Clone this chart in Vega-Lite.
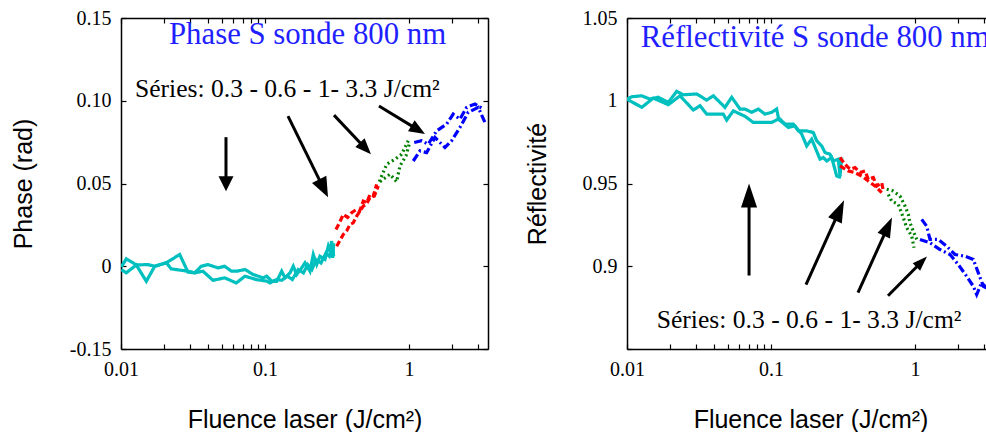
{
  "$schema": "https://vega.github.io/schema/vega-lite/v6.json",
  "background": "white",
  "padding": {"left": 11, "top": 8, "right": 0, "bottom": 0},
  "spacing": 36,
  "config": {
    "view": {"stroke": null},
    "axis": {
      "grid": false, "domainColor": "black", "tickColor": "black", "labelColor": "black", "titleColor": "black",
      "domainWidth": 1.5, "tickWidth": 1.2, "labelFont": "Liberation Serif", "labelFontSize": 20,
      "titleFont": "Liberation Sans", "titleFontSize": 25, "titleFontWeight": "normal",
      "labelFlush": false, "labelOverlap": false
    }
  },
  "datasets": {
    "phase": [
      {"s": "0.3", "p": "a", "f": 0.01005, "v": -0.0004}, {"s": "0.3", "p": "a", "f": 0.01088, "v": 0.0045}, {"s": "0.3", "p": "a", "f": 0.01277, "v": 0.0008}, {"s": "0.3", "p": "a", "f": 0.0154, "v": 0.001}, {"s": "0.3", "p": "a", "f": 0.01714, "v": 0.0}, {"s": "0.3", "p": "a", "f": 0.02064, "v": 0.0021}, {"s": "0.3", "p": "a", "f": 0.02557, "v": 0.0071}, {"s": "0.3", "p": "a", "f": 0.0292, "v": -0.0036}, {"s": "0.3", "p": "a", "f": 0.03249, "v": -0.004}, {"s": "0.3", "p": "a", "f": 0.03611, "v": 0.0}, {"s": "0.3", "p": "a", "f": 0.04019, "v": 0.001}, {"s": "0.3", "p": "a", "f": 0.04717, "v": -0.001}, {"s": "0.3", "p": "a", "f": 0.0525, "v": 0.0}, {"s": "0.3", "p": "a", "f": 0.0585, "v": -0.003}, {"s": "0.3", "p": "a", "f": 0.0636, "v": -0.003}, {"s": "0.3", "p": "a", "f": 0.0726, "v": -0.002}, {"s": "0.3", "p": "a", "f": 0.0829, "v": -0.005}, {"s": "0.3", "p": "a", "f": 0.0973, "v": -0.007}, {"s": "0.3", "p": "a", "f": 0.1028, "v": -0.006}, {"s": "0.3", "p": "a", "f": 0.1113, "v": -0.009}, {"s": "0.3", "p": "a", "f": 0.1206, "v": -0.0091}, {"s": "0.3", "p": "a", "f": 0.1306, "v": -0.003}, {"s": "0.3", "p": "a", "f": 0.1377, "v": -0.007}, {"s": "0.3", "p": "a", "f": 0.1492, "v": -0.004}, {"s": "0.3", "p": "a", "f": 0.1573, "v": 0.0}, {"s": "0.3", "p": "a", "f": 0.166, "v": -0.005}, {"s": "0.3", "p": "a", "f": 0.1799, "v": -0.001}, {"s": "0.3", "p": "a", "f": 0.1896, "v": 0.0021}, {"s": "0.3", "p": "a", "f": 0.2054, "v": -0.003}, {"s": "0.3", "p": "a", "f": 0.2165, "v": 0.0071}, {"s": "0.3", "p": "a", "f": 0.2286, "v": 0.001}, {"s": "0.3", "p": "a", "f": 0.2409, "v": 0.0061}, {"s": "0.3", "p": "a", "f": 0.261, "v": 0.0041}, {"s": "0.3", "p": "a", "f": 0.2752, "v": 0.0121}, {"s": "0.3", "p": "a", "f": 0.2828, "v": 0.0091}, {"s": "0.3", "p": "a", "f": 0.2906, "v": 0.0152}, {"s": "0.3", "p": "a", "f": 0.295, "v": 0.005}, {"s": "0.3", "p": "a", "f": 0.3, "v": 0.014},
      {"s": "0.3", "p": "b", "f": 0.01005, "v": -0.002}, {"s": "0.3", "p": "b", "f": 0.01088, "v": -0.004}, {"s": "0.3", "p": "b", "f": 0.01277, "v": 0.0008}, {"s": "0.3", "p": "b", "f": 0.01499, "v": -0.0091}, {"s": "0.3", "p": "b", "f": 0.01714, "v": 0.0}, {"s": "0.3", "p": "b", "f": 0.02064, "v": 0.0021}, {"s": "0.3", "p": "b", "f": 0.02235, "v": -0.0016}, {"s": "0.3", "p": "b", "f": 0.0292, "v": -0.003}, {"s": "0.3", "p": "b", "f": 0.03249, "v": -0.004}, {"s": "0.3", "p": "b", "f": 0.0371, "v": -0.003}, {"s": "0.3", "p": "b", "f": 0.04355, "v": -0.0085}, {"s": "0.3", "p": "b", "f": 0.0525, "v": -0.007}, {"s": "0.3", "p": "b", "f": 0.0632, "v": -0.0101}, {"s": "0.3", "p": "b", "f": 0.0726, "v": -0.006}, {"s": "0.3", "p": "b", "f": 0.0876, "v": -0.0081}, {"s": "0.3", "p": "b", "f": 0.1028, "v": -0.009}, {"s": "0.3", "p": "b", "f": 0.1083, "v": -0.0101}, {"s": "0.3", "p": "b", "f": 0.1206, "v": -0.008}, {"s": "0.3", "p": "b", "f": 0.1306, "v": -0.0085}, {"s": "0.3", "p": "b", "f": 0.1424, "v": -0.006}, {"s": "0.3", "p": "b", "f": 0.155, "v": -0.008}, {"s": "0.3", "p": "b", "f": 0.17, "v": -0.002}, {"s": "0.3", "p": "b", "f": 0.185, "v": -0.004}, {"s": "0.3", "p": "b", "f": 0.198, "v": 0.001}, {"s": "0.3", "p": "b", "f": 0.212, "v": -0.002}, {"s": "0.3", "p": "b", "f": 0.226, "v": 0.004}, {"s": "0.3", "p": "b", "f": 0.245, "v": 0.002}, {"s": "0.3", "p": "b", "f": 0.265, "v": 0.008}, {"s": "0.3", "p": "b", "f": 0.28, "v": 0.006}, {"s": "0.3", "p": "b", "f": 0.295, "v": 0.012}, {"s": "0.3", "p": "b", "f": 0.3, "v": 0.006},
      {"s": "0.6", "p": "a", "f": 0.3112, "v": 0.0222}, {"s": "0.6", "p": "a", "f": 0.33, "v": 0.0265}, {"s": "0.6", "p": "a", "f": 0.3499, "v": 0.0313}, {"s": "0.6", "p": "a", "f": 0.375, "v": 0.0295}, {"s": "0.6", "p": "a", "f": 0.4001, "v": 0.0324}, {"s": "0.6", "p": "a", "f": 0.4335, "v": 0.0344}, {"s": "0.6", "p": "a", "f": 0.455, "v": 0.0335}, {"s": "0.6", "p": "a", "f": 0.4816, "v": 0.0394}, {"s": "0.6", "p": "a", "f": 0.51, "v": 0.0385}, {"s": "0.6", "p": "a", "f": 0.536, "v": 0.0434}, {"s": "0.6", "p": "a", "f": 0.565, "v": 0.0425}, {"s": "0.6", "p": "a", "f": 0.5967, "v": 0.0495},
      {"s": "0.6", "p": "b", "f": 0.3147, "v": 0.0121}, {"s": "0.6", "p": "b", "f": 0.3499, "v": 0.0192}, {"s": "0.6", "p": "b", "f": 0.37, "v": 0.0215}, {"s": "0.6", "p": "b", "f": 0.3894, "v": 0.0253}, {"s": "0.6", "p": "b", "f": 0.41, "v": 0.0262}, {"s": "0.6", "p": "b", "f": 0.4335, "v": 0.0303}, {"s": "0.6", "p": "b", "f": 0.4816, "v": 0.0364}, {"s": "0.6", "p": "b", "f": 0.505, "v": 0.0372}, {"s": "0.6", "p": "b", "f": 0.536, "v": 0.0415}, {"s": "0.6", "p": "b", "f": 0.575, "v": 0.0425}, {"s": "0.6", "p": "b", "f": 0.6121, "v": 0.0485},
      {"s": "1", "p": "a", "f": 0.622, "v": 0.0511}, {"s": "1", "p": "a", "f": 0.7001, "v": 0.0616}, {"s": "1", "p": "a", "f": 0.7995, "v": 0.0647}, {"s": "1", "p": "a", "f": 0.8898, "v": 0.0677}, {"s": "1", "p": "a", "f": 0.9888, "v": 0.0758},
      {"s": "1", "p": "b", "f": 0.6289, "v": 0.0511}, {"s": "1", "p": "b", "f": 0.7382, "v": 0.0556}, {"s": "1", "p": "b", "f": 0.8215, "v": 0.0511}, {"s": "1", "p": "b", "f": 0.866, "v": 0.0606}, {"s": "1", "p": "b", "f": 0.9533, "v": 0.0667}, {"s": "1", "p": "b", "f": 1.0048, "v": 0.0738},
      {"s": "3.3", "p": "a", "f": 1.088, "v": 0.0748}, {"s": "3.3", "p": "a", "f": 1.225, "v": 0.0758}, {"s": "3.3", "p": "a", "f": 1.361, "v": 0.0738}, {"s": "3.3", "p": "a", "f": 1.557, "v": 0.0818}, {"s": "3.3", "p": "a", "f": 1.827, "v": 0.0859}, {"s": "3.3", "p": "a", "f": 2.03, "v": 0.0919}, {"s": "3.3", "p": "a", "f": 2.261, "v": 0.0889}, {"s": "3.3", "p": "a", "f": 2.516, "v": 0.096}, {"s": "3.3", "p": "a", "f": 2.873, "v": 0.098}, {"s": "3.3", "p": "a", "f": 3.281, "v": 0.095},
      {"s": "3.3", "p": "b", "f": 1.071, "v": 0.0636}, {"s": "3.3", "p": "b", "f": 1.192, "v": 0.0697}, {"s": "3.3", "p": "b", "f": 1.327, "v": 0.0687}, {"s": "3.3", "p": "b", "f": 1.516, "v": 0.0778}, {"s": "3.3", "p": "b", "f": 1.778, "v": 0.0718}, {"s": "3.3", "p": "b", "f": 1.979, "v": 0.0758}, {"s": "3.3", "p": "b", "f": 2.261, "v": 0.0839}, {"s": "3.3", "p": "b", "f": 2.581, "v": 0.093}, {"s": "3.3", "p": "b", "f": 3.029, "v": 0.096}, {"s": "3.3", "p": "b", "f": 3.371, "v": 0.0869}
    ],
    "refl": [
      {"s": "0.3", "p": "a", "f": 0.01, "v": 1.001}, {"s": "0.3", "p": "a", "f": 0.01078, "v": 1.0024}, {"s": "0.3", "p": "a", "f": 0.01265, "v": 1.003}, {"s": "0.3", "p": "a", "f": 0.01445, "v": 1.001}, {"s": "0.3", "p": "a", "f": 0.0165, "v": 1.0021}, {"s": "0.3", "p": "a", "f": 0.01936, "v": 0.999}, {"s": "0.3", "p": "a", "f": 0.02214, "v": 1.0057}, {"s": "0.3", "p": "a", "f": 0.0246, "v": 1.0036}, {"s": "0.3", "p": "a", "f": 0.03048, "v": 1.0041}, {"s": "0.3", "p": "a", "f": 0.03577, "v": 1.0004}, {"s": "0.3", "p": "a", "f": 0.03975, "v": 1.003}, {"s": "0.3", "p": "a", "f": 0.04793, "v": 0.996}, {"s": "0.3", "p": "a", "f": 0.05335, "v": 1.0021}, {"s": "0.3", "p": "a", "f": 0.06093, "v": 0.995}, {"s": "0.3", "p": "a", "f": 0.066, "v": 0.995}, {"s": "0.3", "p": "a", "f": 0.07345, "v": 0.993}, {"s": "0.3", "p": "a", "f": 0.08164, "v": 0.995}, {"s": "0.3", "p": "a", "f": 0.09085, "v": 0.9919}, {"s": "0.3", "p": "a", "f": 0.1011, "v": 0.993}, {"s": "0.3", "p": "a", "f": 0.1095, "v": 0.995}, {"s": "0.3", "p": "a", "f": 0.1124, "v": 0.9899}, {"s": "0.3", "p": "a", "f": 0.1251, "v": 0.9859}, {"s": "0.3", "p": "a", "f": 0.1429, "v": 0.9859}, {"s": "0.3", "p": "a", "f": 0.1548, "v": 0.9818}, {"s": "0.3", "p": "a", "f": 0.177, "v": 0.9818}, {"s": "0.3", "p": "a", "f": 0.1967, "v": 0.9808}, {"s": "0.3", "p": "a", "f": 0.2077, "v": 0.9758}, {"s": "0.3", "p": "a", "f": 0.225, "v": 0.9727}, {"s": "0.3", "p": "a", "f": 0.2371, "v": 0.9687}, {"s": "0.3", "p": "a", "f": 0.2569, "v": 0.9677}, {"s": "0.3", "p": "a", "f": 0.2707, "v": 0.9636}, {"s": "0.3", "p": "a", "f": 0.2934, "v": 0.9647}, {"s": "0.3", "p": "a", "f": 0.3015, "v": 0.9545}, {"s": "0.3", "p": "a", "f": 0.3097, "v": 0.9657},
      {"s": "0.3", "p": "b", "f": 0.01, "v": 1.001}, {"s": "0.3", "p": "b", "f": 0.01265, "v": 0.996}, {"s": "0.3", "p": "b", "f": 0.01522, "v": 1.0016}, {"s": "0.3", "p": "b", "f": 0.01936, "v": 0.9976}, {"s": "0.3", "p": "b", "f": 0.02334, "v": 1.003}, {"s": "0.3", "p": "b", "f": 0.02887, "v": 0.9944}, {"s": "0.3", "p": "b", "f": 0.03214, "v": 0.997}, {"s": "0.3", "p": "b", "f": 0.03577, "v": 0.9919}, {"s": "0.3", "p": "b", "f": 0.04665, "v": 0.9919}, {"s": "0.3", "p": "b", "f": 0.04925, "v": 0.9883}, {"s": "0.3", "p": "b", "f": 0.05473, "v": 0.9939}, {"s": "0.3", "p": "b", "f": 0.06261, "v": 0.9915}, {"s": "0.3", "p": "b", "f": 0.066, "v": 0.9906}, {"s": "0.3", "p": "b", "f": 0.07535, "v": 0.9869}, {"s": "0.3", "p": "b", "f": 0.08164, "v": 0.9869}, {"s": "0.3", "p": "b", "f": 0.1011, "v": 0.9869}, {"s": "0.3", "p": "b", "f": 0.1124, "v": 0.9889}, {"s": "0.3", "p": "b", "f": 0.1319, "v": 0.9839}, {"s": "0.3", "p": "b", "f": 0.1468, "v": 0.9848}, {"s": "0.3", "p": "b", "f": 0.1634, "v": 0.9798}, {"s": "0.3", "p": "b", "f": 0.177, "v": 0.9727}, {"s": "0.3", "p": "b", "f": 0.1917, "v": 0.9768}, {"s": "0.3", "p": "b", "f": 0.2189, "v": 0.9647}, {"s": "0.3", "p": "b", "f": 0.2308, "v": 0.9657}, {"s": "0.3", "p": "b", "f": 0.2437, "v": 0.9636}, {"s": "0.3", "p": "b", "f": 0.264, "v": 0.9657}, {"s": "0.3", "p": "b", "f": 0.286, "v": 0.9545}, {"s": "0.3", "p": "b", "f": 0.3063, "v": 0.9536},
      {"s": "0.6", "p": "a", "f": 0.3015, "v": 0.9657}, {"s": "0.6", "p": "a", "f": 0.3265, "v": 0.9616}, {"s": "0.6", "p": "a", "f": 0.3537, "v": 0.9586}, {"s": "0.6", "p": "a", "f": 0.3831, "v": 0.9596}, {"s": "0.6", "p": "a", "f": 0.415, "v": 0.9566}, {"s": "0.6", "p": "a", "f": 0.4496, "v": 0.9576}, {"s": "0.6", "p": "a", "f": 0.474, "v": 0.9525}, {"s": "0.6", "p": "a", "f": 0.5135, "v": 0.9536}, {"s": "0.6", "p": "a", "f": 0.542, "v": 0.9485}, {"s": "0.6", "p": "a", "f": 0.5873, "v": 0.9505}, {"s": "0.6", "p": "a", "f": 0.6026, "v": 0.9455},
      {"s": "0.6", "p": "b", "f": 0.3015, "v": 0.9606}, {"s": "0.6", "p": "b", "f": 0.3442, "v": 0.9576}, {"s": "0.6", "p": "b", "f": 0.3831, "v": 0.9566}, {"s": "0.6", "p": "b", "f": 0.4265, "v": 0.9545}, {"s": "0.6", "p": "b", "f": 0.474, "v": 0.9515}, {"s": "0.6", "p": "b", "f": 0.5276, "v": 0.9485}, {"s": "0.6", "p": "b", "f": 0.5873, "v": 0.9445},
      {"s": "1", "p": "a", "f": 0.6362, "v": 0.9465}, {"s": "1", "p": "a", "f": 0.7068, "v": 0.9455}, {"s": "1", "p": "a", "f": 0.7868, "v": 0.9424}, {"s": "1", "p": "a", "f": 0.8521, "v": 0.9364}, {"s": "1", "p": "a", "f": 0.8983, "v": 0.9313}, {"s": "1", "p": "a", "f": 0.923, "v": 0.9263}, {"s": "1", "p": "a", "f": 0.9732, "v": 0.9212}, {"s": "1", "p": "a", "f": 1.0276, "v": 0.9162},
      {"s": "1", "p": "b", "f": 0.6526, "v": 0.9434}, {"s": "1", "p": "b", "f": 0.6889, "v": 0.9394}, {"s": "1", "p": "b", "f": 0.7656, "v": 0.9374}, {"s": "1", "p": "b", "f": 0.8294, "v": 0.9293}, {"s": "1", "p": "b", "f": 0.8756, "v": 0.9233}, {"s": "1", "p": "b", "f": 0.9487, "v": 0.9182}, {"s": "1", "p": "b", "f": 0.9842, "v": 0.9112},
      {"s": "3.3", "p": "a", "f": 1.113, "v": 0.9283}, {"s": "3.3", "p": "a", "f": 1.206, "v": 0.9242}, {"s": "3.3", "p": "a", "f": 1.271, "v": 0.9162}, {"s": "3.3", "p": "a", "f": 1.451, "v": 0.9162}, {"s": "3.3", "p": "a", "f": 1.66, "v": 0.9121}, {"s": "3.3", "p": "a", "f": 1.896, "v": 0.9071}, {"s": "3.3", "p": "a", "f": 2.224, "v": 0.9061}, {"s": "3.3", "p": "a", "f": 2.541, "v": 0.9041}, {"s": "3.3", "p": "a", "f": 2.752, "v": 0.896}, {"s": "3.3", "p": "a", "f": 2.981, "v": 0.8879}, {"s": "3.3", "p": "a", "f": 3.3, "v": 0.886},
      {"s": "3.3", "p": "b", "f": 1.083, "v": 0.9162}, {"s": "3.3", "p": "b", "f": 1.271, "v": 0.9142}, {"s": "3.3", "p": "b", "f": 1.491, "v": 0.9101}, {"s": "3.3", "p": "b", "f": 1.75, "v": 0.9071}, {"s": "3.3", "p": "b", "f": 1.998, "v": 0.901}, {"s": "3.3", "p": "b", "f": 2.286, "v": 0.8939}, {"s": "3.3", "p": "b", "f": 2.541, "v": 0.8879}, {"s": "3.3", "p": "b", "f": 2.683, "v": 0.8829}, {"s": "3.3", "p": "b", "f": 2.9, "v": 0.89}, {"s": "3.3", "p": "b", "f": 3.3, "v": 0.885}
    ],
    "arrowsL": [
      {"id": "A1", "f": 0.0536, "v": 0.078, "f2": 0.0536, "v2": 0.0498},
      {"id": "A2", "f": 0.1445, "v": 0.0907, "f2": 0.2553, "v2": 0.0471},
      {"id": "A3", "f": 0.3015, "v": 0.0913, "f2": 0.4988, "v2": 0.0712},
      {"id": "A4", "f": 0.619, "v": 0.0968, "f2": 1.1585, "v2": 0.0824}
    ],
    "arrowsR": [
      {"id": "B1", "f": 0.0704, "v": 0.8944, "f2": 0.0704, "v2": 0.9428},
      {"id": "B2", "f": 0.175, "v": 0.8889, "f2": 0.2991, "v2": 0.9338},
      {"id": "B3", "f": 0.4019, "v": 0.8841, "f2": 0.6483, "v2": 0.924},
      {"id": "B4", "f": 0.6494, "v": 0.8822, "f2": 1.113, "v2": 0.9027}
    ],
    "notesL": [
      {"k": "t", "f": 0.02154, "v": 0.1343, "label": "Phase S sonde 800 nm"},
      {"k": "s", "f": 0.0125, "v": 0.1021, "label": "Séries: 0.3 - 0.6 - 1- 3.3 J/cm²"}
    ],
    "notesR": [
      {"k": "t", "f": 0.01245, "v": 1.0323, "label": "Réflectivité S sonde 800 nm"},
      {"k": "s", "f": 0.01608, "v": 0.8627, "label": "Séries: 0.3 - 0.6 - 1- 3.3 J/cm²"}
    ]
  },
  "hconcat": [
    {
      "width": 367, "height": 331,
      "encoding": {
        "x": {"field": "f", "type": "quantitative", "scale": {"type": "log", "domain": [0.01, 3.54], "nice": false}, "axis": null},
        "y": {"field": "v", "type": "quantitative", "scale": {"domain": [-0.05, 0.15], "nice": false, "zero": false}, "axis": null}
      },
      "layer": [
        {
          "data": {"name": "phase"},
          "mark": {"type": "line", "strokeWidth": 3.2, "clip": true},
          "encoding": {
            "x": {"field": "f", "type": "quantitative", "scale": {"type": "log", "domain": [0.01, 3.54], "nice": false},
              "axis": {"orient": "bottom", "values": [0.01, 0.02, 0.03, 0.04, 0.05, 0.06, 0.07, 0.08, 0.09, 0.1, 1, 2, 3],
                "labelExpr": "datum.value == 0.01 ? '0.01' : datum.value == 0.1 ? '0.1' : datum.value == 1 ? '1' : ''",
                "tickSize": -5, "labelPadding": 15, "title": "Fluence laser (J/cm²)", "titleX": 183.5, "titleY": 58, "minExtent": 30, "maxExtent": 30}},
            "y": {"field": "v", "type": "quantitative", "scale": {"domain": [-0.05, 0.15], "nice": false, "zero": false},
              "axis": {"orient": "left", "values": [-0.05, 0, 0.05, 0.1, 0.15],
                "labelExpr": "datum.value < -0.01 ? '-0.15' : datum.value == 0 ? '0' : format(datum.value, '.2f')",
                "tickSize": -5, "labelPadding": 15, "title": "Phase (rad)", "titlePadding": 35, "minExtent": 50, "maxExtent": 50}},
            "color": {"field": "s", "type": "nominal", "scale": {"domain": ["0.3", "0.6", "1", "3.3"], "range": ["#00BFBF", "#FF0000", "#008000", "#0000FF"]}, "legend": null},
            "strokeDash": {"field": "s", "type": "nominal", "scale": {"domain": ["0.3", "0.6", "1", "3.3"], "range": [[1, 0], [6, 3], [2, 3], [8, 3, 2, 3]]}, "legend": null},
            "detail": {"field": "p"}
          }
        },
        {
          "data": {"name": "phase"},
          "mark": {"type": "line", "opacity": 0},
          "encoding": {
            "x": {"field": "f", "type": "quantitative", "scale": {"type": "log", "domain": [0.01, 3.54], "nice": false},
              "axis": {"orient": "top", "values": [0.01, 0.02, 0.03, 0.04, 0.05, 0.06, 0.07, 0.08, 0.09, 0.1, 1, 2, 3], "labels": false, "tickSize": -5, "title": null, "minExtent": 0, "maxExtent": 0}},
            "y": {"field": "v", "type": "quantitative", "scale": {"domain": [-0.05, 0.15], "nice": false, "zero": false},
              "axis": {"orient": "right", "values": [-0.05, 0, 0.05, 0.1, 0.15], "labels": false, "tickSize": -5, "title": null, "minExtent": 0, "maxExtent": 0}},
            "detail": {"field": "s"}
          }
        },
        {
          "data": {"name": "arrowsL"},
          "mark": {"type": "rule", "strokeWidth": 3, "color": "black"},
          "encoding": {"x2": {"field": "f2"}, "y2": {"field": "v2"}}
        },
        {
          "data": {"name": "arrowsL"},
          "transform": [{"filter": "datum.id == 'A1'"}],
          "mark": {"type": "point", "shape": "M0,-1L-1,1L1,1Z", "size": 225, "angle": 180, "filled": true, "color": "black", "opacity": 1, "strokeWidth": 0},
          "encoding": {
            "x": {"field": "f2", "type": "quantitative", "scale": {"type": "log", "domain": [0.01, 3.54], "nice": false}, "axis": null},
            "y": {"field": "v2", "type": "quantitative", "scale": {"domain": [-0.05, 0.15], "nice": false, "zero": false}, "axis": null}
          }
        },
        {
          "data": {"name": "arrowsL"},
          "transform": [{"filter": "datum.id == 'A2'"}],
          "mark": {"type": "point", "shape": "M0,-1L-0.8,1L0.8,1Z", "size": 400, "angle": 153.7, "filled": true, "color": "black", "opacity": 1, "strokeWidth": 0},
          "encoding": {
            "x": {"field": "f2", "type": "quantitative", "scale": {"type": "log", "domain": [0.01, 3.54], "nice": false}, "axis": null},
            "y": {"field": "v2", "type": "quantitative", "scale": {"domain": [-0.05, 0.15], "nice": false, "zero": false}, "axis": null}
          }
        },
        {
          "data": {"name": "arrowsL"},
          "transform": [{"filter": "datum.id == 'A3'"}],
          "mark": {"type": "point", "shape": "M0,-1L-0.8,1L0.8,1Z", "size": 256, "angle": 136.5, "filled": true, "color": "black", "opacity": 1, "strokeWidth": 0},
          "encoding": {
            "x": {"field": "f2", "type": "quantitative", "scale": {"type": "log", "domain": [0.01, 3.54], "nice": false}, "axis": null},
            "y": {"field": "v2", "type": "quantitative", "scale": {"domain": [-0.05, 0.15], "nice": false, "zero": false}, "axis": null}
          }
        },
        {
          "data": {"name": "arrowsL"},
          "transform": [{"filter": "datum.id == 'A4'"}],
          "mark": {"type": "point", "shape": "M0,-1L-0.8,1L0.8,1Z", "size": 256, "angle": 121.3, "filled": true, "color": "black", "opacity": 1, "strokeWidth": 0},
          "encoding": {
            "x": {"field": "f2", "type": "quantitative", "scale": {"type": "log", "domain": [0.01, 3.54], "nice": false}, "axis": null},
            "y": {"field": "v2", "type": "quantitative", "scale": {"domain": [-0.05, 0.15], "nice": false, "zero": false}, "axis": null}
          }
        },
        {
          "data": {"name": "notesL"},
          "transform": [{"filter": "datum.k == 't'"}],
          "mark": {"type": "text", "align": "left", "baseline": "alphabetic", "font": "Liberation Serif", "fontSize": 30.8, "color": "#1f1fff", "clip": true},
          "encoding": {"text": {"field": "label"}}
        },
        {
          "data": {"name": "notesL"},
          "transform": [{"filter": "datum.k == 's'"}],
          "mark": {"type": "text", "align": "left", "baseline": "alphabetic", "font": "Liberation Serif", "fontSize": 25.6, "color": "black", "clip": true},
          "encoding": {"text": {"field": "label"}}
        }
      ],
      "resolve": {"axis": {"x": "independent", "y": "independent"}}
    },
    {
      "width": 359, "height": 331,
      "encoding": {
        "x": {"field": "f", "type": "quantitative", "scale": {"type": "log", "domain": [0.01, 3.112], "nice": false}, "axis": null},
        "y": {"field": "v", "type": "quantitative", "scale": {"domain": [0.85, 1.05], "nice": false, "zero": false}, "axis": null}
      },
      "layer": [
        {
          "data": {"name": "refl"},
          "mark": {"type": "line", "strokeWidth": 3.2, "clip": true},
          "encoding": {
            "x": {"field": "f", "type": "quantitative", "scale": {"type": "log", "domain": [0.01, 3.112], "nice": false},
              "axis": {"orient": "bottom", "values": [0.01, 0.02, 0.03, 0.04, 0.05, 0.06, 0.07, 0.08, 0.09, 0.1, 1, 2, 3],
                "labelExpr": "datum.value == 0.01 ? '0.01' : datum.value == 0.1 ? '0.1' : datum.value == 1 ? '1' : ''",
                "tickSize": -5, "labelPadding": 15, "title": "Fluence laser (J/cm²)", "titleX": 183.5, "titleY": 58, "minExtent": 30, "maxExtent": 30}},
            "y": {"field": "v", "type": "quantitative", "scale": {"domain": [0.85, 1.05], "nice": false, "zero": false},
              "axis": {"orient": "left", "values": [0.85, 0.9, 0.95, 1, 1.05],
                "labelExpr": "datum.value < 0.86 ? '' : datum.value == 0.9 ? '0.9' : datum.value == 1 ? '1' : format(datum.value, '.2f')",
                "tickSize": -5, "labelPadding": 15, "title": "Réflectivité", "titlePadding": 26.5, "minExtent": 50, "maxExtent": 50}},
            "color": {"field": "s", "type": "nominal", "scale": {"domain": ["0.3", "0.6", "1", "3.3"], "range": ["#00BFBF", "#FF0000", "#008000", "#0000FF"]}, "legend": null},
            "strokeDash": {"field": "s", "type": "nominal", "scale": {"domain": ["0.3", "0.6", "1", "3.3"], "range": [[1, 0], [6, 3], [2, 3], [8, 3, 2, 3]]}, "legend": null},
            "detail": {"field": "p"}
          }
        },
        {
          "data": {"name": "refl"},
          "mark": {"type": "line", "opacity": 0},
          "encoding": {
            "x": {"field": "f", "type": "quantitative", "scale": {"type": "log", "domain": [0.01, 3.112], "nice": false},
              "axis": {"orient": "top", "values": [0.01, 0.02, 0.03, 0.04, 0.05, 0.06, 0.07, 0.08, 0.09, 0.1, 1, 2, 3], "labels": false, "tickSize": -5, "title": null, "minExtent": 0, "maxExtent": 0}},
            "y": {"field": "v", "type": "quantitative", "scale": {"domain": [0.85, 1.05], "nice": false, "zero": false}, "axis": null},
            "detail": {"field": "s"}
          }
        },
        {
          "data": {"name": "arrowsR"},
          "mark": {"type": "rule", "strokeWidth": 3, "color": "black"},
          "encoding": {"x2": {"field": "f2"}, "y2": {"field": "v2"}}
        },
        {
          "data": {"name": "arrowsR"},
          "transform": [{"filter": "datum.id == 'B1'"}],
          "mark": {"type": "point", "shape": "M0,-1L-0.67,1L0.67,1Z", "size": 576, "angle": 0, "filled": true, "color": "black", "opacity": 1, "strokeWidth": 0},
          "encoding": {
            "x": {"field": "f2", "type": "quantitative", "scale": {"type": "log", "domain": [0.01, 3.112], "nice": false}, "axis": null},
            "y": {"field": "v2", "type": "quantitative", "scale": {"domain": [0.85, 1.05], "nice": false, "zero": false}, "axis": null}
          }
        },
        {
          "data": {"name": "arrowsR"},
          "transform": [{"filter": "datum.id == 'B2'"}],
          "mark": {"type": "point", "shape": "M0,-1L-0.68,1L0.68,1Z", "size": 484, "angle": 24.3, "filled": true, "color": "black", "opacity": 1, "strokeWidth": 0},
          "encoding": {
            "x": {"field": "f2", "type": "quantitative", "scale": {"type": "log", "domain": [0.01, 3.112], "nice": false}, "axis": null},
            "y": {"field": "v2", "type": "quantitative", "scale": {"domain": [0.85, 1.05], "nice": false, "zero": false}, "axis": null}
          }
        },
        {
          "data": {"name": "arrowsR"},
          "transform": [{"filter": "datum.id == 'B3'"}],
          "mark": {"type": "point", "shape": "M0,-1L-0.68,1L0.68,1Z", "size": 400, "angle": 24.4, "filled": true, "color": "black", "opacity": 1, "strokeWidth": 0},
          "encoding": {
            "x": {"field": "f2", "type": "quantitative", "scale": {"type": "log", "domain": [0.01, 3.112], "nice": false}, "axis": null},
            "y": {"field": "v2", "type": "quantitative", "scale": {"domain": [0.85, 1.05], "nice": false, "zero": false}, "axis": null}
          }
        },
        {
          "data": {"name": "arrowsR"},
          "transform": [{"filter": "datum.id == 'B4'"}],
          "mark": {"type": "point", "shape": "M0,-1L-0.7,1L0.7,1Z", "size": 225, "angle": 45, "filled": true, "color": "black", "opacity": 1, "strokeWidth": 0},
          "encoding": {
            "x": {"field": "f2", "type": "quantitative", "scale": {"type": "log", "domain": [0.01, 3.112], "nice": false}, "axis": null},
            "y": {"field": "v2", "type": "quantitative", "scale": {"domain": [0.85, 1.05], "nice": false, "zero": false}, "axis": null}
          }
        },
        {
          "data": {"name": "notesR"},
          "transform": [{"filter": "datum.k == 't'"}],
          "mark": {"type": "text", "align": "left", "baseline": "alphabetic", "font": "Liberation Serif", "fontSize": 30.8, "color": "#1f1fff", "clip": true},
          "encoding": {"text": {"field": "label"}}
        },
        {
          "data": {"name": "notesR"},
          "transform": [{"filter": "datum.k == 's'"}],
          "mark": {"type": "text", "align": "left", "baseline": "alphabetic", "font": "Liberation Serif", "fontSize": 25.6, "color": "black", "clip": true},
          "encoding": {"text": {"field": "label"}}
        }
      ],
      "resolve": {"axis": {"x": "independent", "y": "independent"}}
    }
  ]
}
